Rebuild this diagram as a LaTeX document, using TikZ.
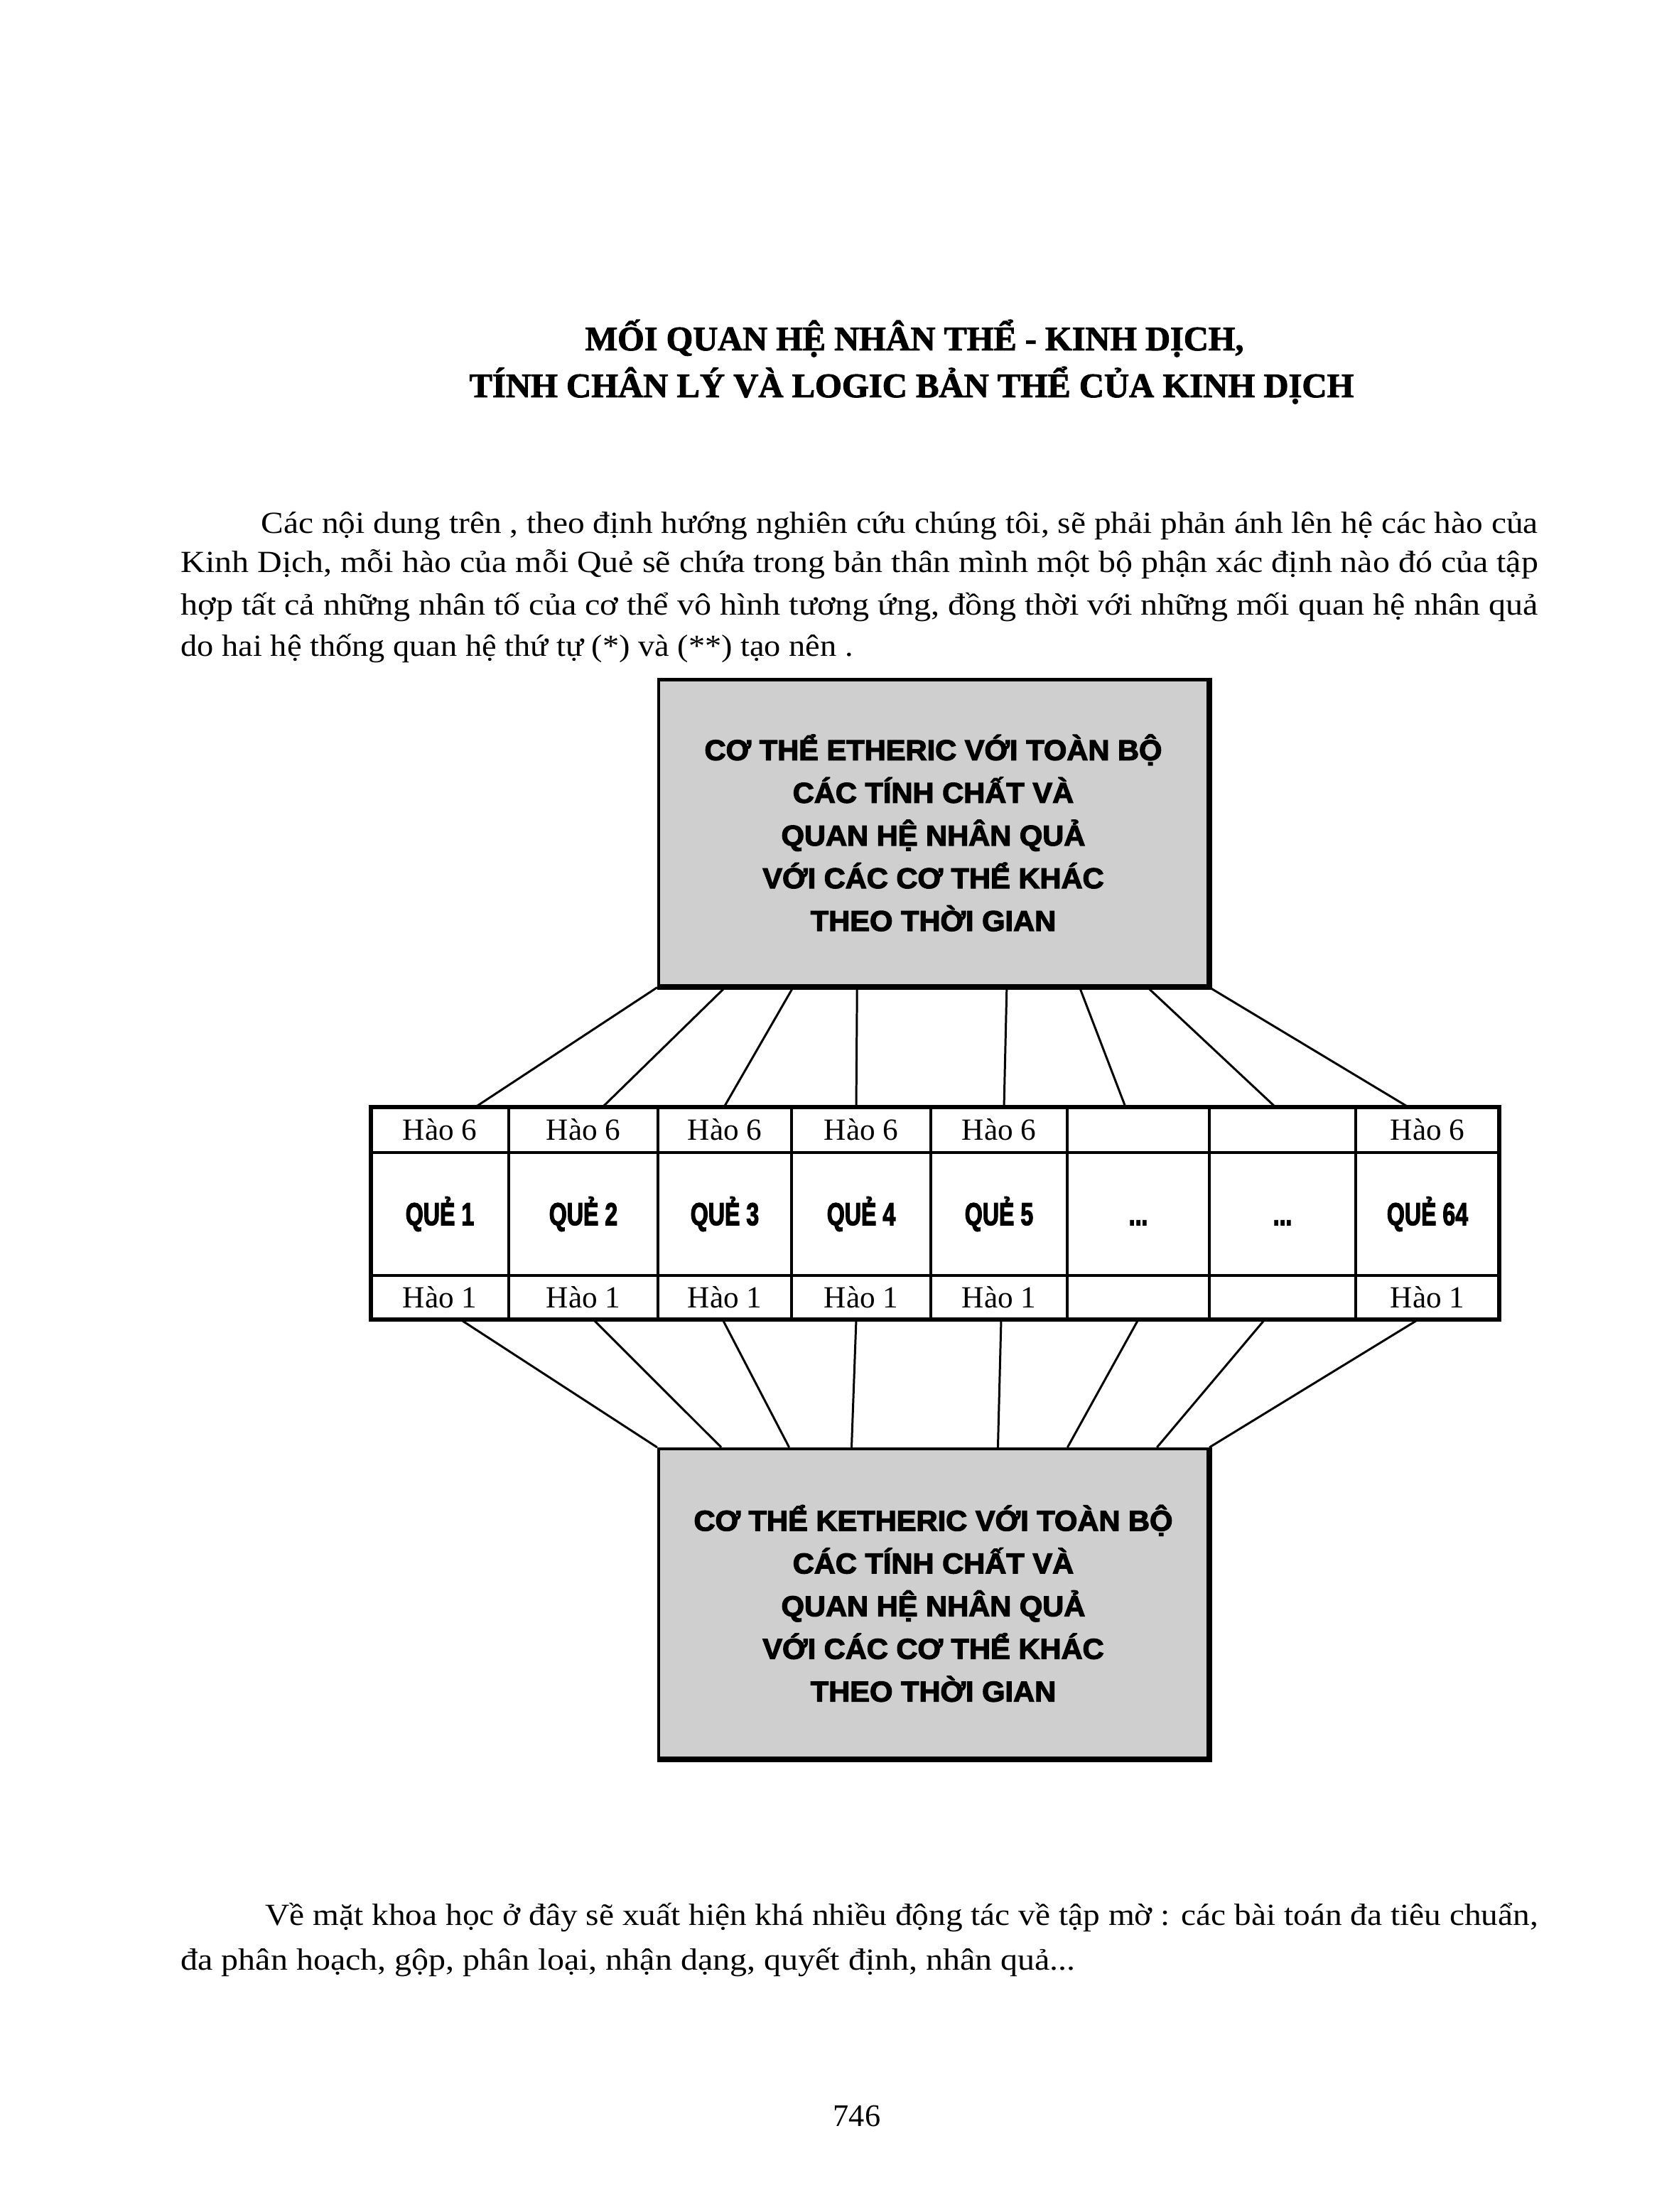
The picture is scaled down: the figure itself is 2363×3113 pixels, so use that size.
\documentclass[tikz,border=0pt]{standalone}
\usepackage{fontspec}
\setmainfont{Liberation Serif}
\newfontfamily\boxfont{Liberation Sans}[FakeBold=3]
\newfontfamily\titlefont{Liberation Serif}[FakeBold=2]
\usepackage{graphicx}
\usetikzlibrary{calc}

\newcommand\fitline[2]{\resizebox{#1}{\height}{#2}}
\newcommand\boxline[1]{\scalebox{1.03}[1]{#1}}
\newcommand\quetext[1]{\scalebox{0.72}[1]{\boxfont\bfseries\fontsize{12.7}{15}\selectfont\vphantom{QUẺ}#1}}
\newcommand\boxtextfont{\boxfont\bfseries\fontsize{11.5}{17.1}\selectfont\lineskiplimit=-20pt\relax}
\newcommand\quedots{...}

\tikzset{
  txt/.style={anchor=base west, inner sep=0pt, font=\fontsize{12.3}{14}\selectfont},
  cell/.style={draw=black, line width=0.9pt, inner sep=0pt, outer sep=0pt, font=\fontsize{12.3}{14}\selectfont},
  bodybox/.style={draw=black, line width=1.2pt, fill=black!19, minimum width=77.3mm,
    inner sep=0pt, align=center, font=\boxtextfont},
  link/.style={line width=0.85pt},
}

\begin{document}
\begin{tikzpicture}[x=0.1mm, y=-0.1mm]
    \useasboundingbox (0,0) rectangle (2363,3113);
    \fill[white] (0,0) rectangle (2363,3113);

    % title
    \node[anchor=base, inner sep=0pt] (title1) at (1287,493) {\fitline{92.7mm}{\titlefont\bfseries\fontsize{13.8}{18}\selectfont MỐI QUAN HỆ NHÂN THỂ - KINH DỊCH,}};
    \node[anchor=base, inner sep=0pt] (title2) at (1283,559) {\fitline{124.5mm}{\titlefont\bfseries\fontsize{13.8}{18}\selectfont TÍNH CHÂN LÝ VÀ LOGIC BẢN THỂ CỦA KINH DỊCH}};

    % first paragraph
    \node[txt] (parA1) at (367,751) {\fitline{179.7mm}{Các nội dung trên , theo định hướng nghiên cứu chúng tôi, sẽ phải phản ánh lên hệ các hào của}};
    \node[txt] (parA2) at (254,806) {\fitline{191mm}{Kinh Dịch, mỗi hào  của mỗi Quẻ sẽ chứa trong bản thân mình một bộ phận xác định nào đó của tập}};
    \node[txt] (parA3) at (254,866) {\fitline{191mm}{hợp  tất cả những nhân tố của cơ thể vô hình tương ứng, đồng thời với những mối quan hệ  nhân quả}};
    \node[txt] (parA4) at (254,923) {\fitline{94.6mm}{do hai hệ thống quan hệ thứ tự (*) và (**) tạo nên .}};

    % upper box
    \node[bodybox, minimum height=43.1mm] (etheric) at (1313.5,1172)
      {\boxline{CƠ THỂ ETHERIC VỚI TOÀN BỘ}\\ \boxline{CÁC TÍNH CHẤT  VÀ}\\
       \boxline{QUAN HỆ NHÂN QUẢ}\\ \boxline{VỚI CÁC CƠ THỂ KHÁC}\\ \boxline{THEO THỜI GIAN}};
    \draw[line width=2.2pt] (etheric.north east) -- (etheric.south east) -- (etheric.south west);

    % table of the 64 que
    \foreach \i/\xl/\xr/\htop/\qname/\hbot in {
        1/522/716/Hào 6/QUẺ 1/Hào 1,
        2/716/926/Hào 6/QUẺ 2/Hào 1,
        3/926/1114/Hào 6/QUẺ 3/Hào 1,
        4/1114/1310/Hào 6/QUẺ 4/Hào 1,
        5/1310/1502/Hào 6/QUẺ 5/Hào 1,
        6/1502/1702/{}/\quedots/{},
        7/1702/1908/{}/\quedots/{},
        8/1908/2110/Hào 6/QUẺ 64/Hào 1} {
      \node[cell, minimum width={(\xr-\xl)*0.1mm}, minimum height=6.4mm] (hsix\i) at ({(\xl+\xr)/2},1590) {\htop};
      \node[cell, minimum width={(\xr-\xl)*0.1mm}, minimum height=17.3mm] (que\i) at ({(\xl+\xr)/2},1708.5) {\quetext{\qname}};
      \node[cell, minimum width={(\xr-\xl)*0.1mm}, minimum height=6.2mm] (hone\i) at ({(\xl+\xr)/2},1826) {\hbot};
    }
    \draw[line width=1.6pt] (hsix1.north west) rectangle (hone8.south east);

    % lower box
    \node[bodybox, minimum height=43.5mm] (ketheric) at (1313.5,2256.5)
      {\boxline{CƠ THỂ KETHERIC VỚI TOÀN BỘ}\\ \boxline{CÁC TÍNH CHẤT  VÀ}\\
       \boxline{QUAN HỆ NHÂN QUẢ}\\ \boxline{VỚI CÁC CƠ THỂ KHÁC}\\ \boxline{THEO THỜI GIAN}};
    \draw[line width=2.2pt] (ketheric.north east) -- (ketheric.south east) -- (ketheric.south west);

    % connectors
    \foreach \f/\j/\dx in {0/1/5, 0.123/2/2.7, 0.246/3/-0.1, 0.362/4/-0.7, 0.633/5/0.7, 0.765/6/-1.8, 0.888/7/-1, 1/8/-2.7}
      \draw[link] ($(etheric.south west)!\f!(etheric.south east)$) -- ([xshift=\dx mm]hsix\j.north);
    \foreach \f/\j/\dx in {0/1/2.9, 0.116/2/1.4, 0.239/3/-0.3, 0.352/4/-0.7, 0.617/5/0.3, 0.743/6/0, 0.905/7/-2.5, 1/8/-1.3}
      \draw[link] ([xshift=\dx mm]hone\j.south) -- ($(ketheric.north west)!\f!(ketheric.north east)$);

    % second paragraph
    \node[txt] (parB1) at (373,2709) {\fitline{179.1mm}{Về mặt khoa học ở đây sẽ xuất hiện khá nhiều động tác về tập mờ : các bài toán đa tiêu chuẩn,}};
    \node[txt] (parB2) at (254,2772) {\fitline{125.9mm}{đa phân hoạch, gộp, phân loại, nhận dạng, quyết định, nhân quả...}};

    \node[anchor=base, inner sep=0pt, font=\fontsize{12.6}{14}\selectfont] (pagenum) at (1206,2992) {746};
\end{tikzpicture}
\end{document}
